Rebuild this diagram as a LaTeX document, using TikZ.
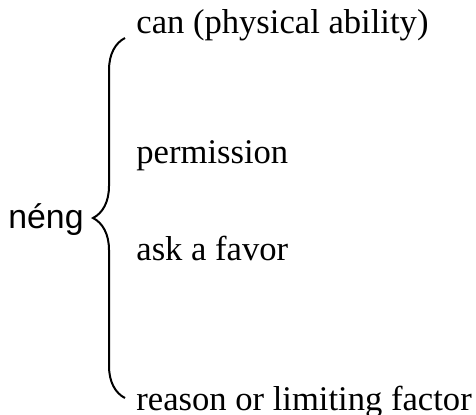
\documentclass[tikz,border=0pt]{standalone}
\usepackage{fontspec}
\setmainfont{Liberation Serif}
\newfontfamily\wordfont{Liberation Sans}
\usetikzlibrary{decorations.pathreplacing}

\tikzset{
  sense/.style={anchor=base west, inner sep=0pt, font=\fontsize{17.3pt}{20pt}\selectfont},
  word/.style={anchor=base west, inner sep=0pt, font=\wordfont\fontsize{16.9pt}{20pt}\selectfont},
}

\begin{document}
\begin{tikzpicture}[x=0.5pt, y=-0.5pt]
    \useasboundingbox (0,0) rectangle (476,414);

    % Nodes
    \node[word] (neng) at (8,228) {néng};
    \node[sense] (can) at (136,33) {can (physical ability)};
    \node[sense] (perm) at (136,163) {permission};
    \node[sense] (favor) at (136,260) {ask a favor};
    \node[sense] (reason) at (136,410) {reason or limiting factor};

    % Brace
    \coordinate (top) at (125,38);
    \coordinate (bot) at (125,398);
    \draw[line width=1pt, decorate, decoration={brace, amplitude=16pt}] (bot) -- (top);
\end{tikzpicture}
\end{document}
